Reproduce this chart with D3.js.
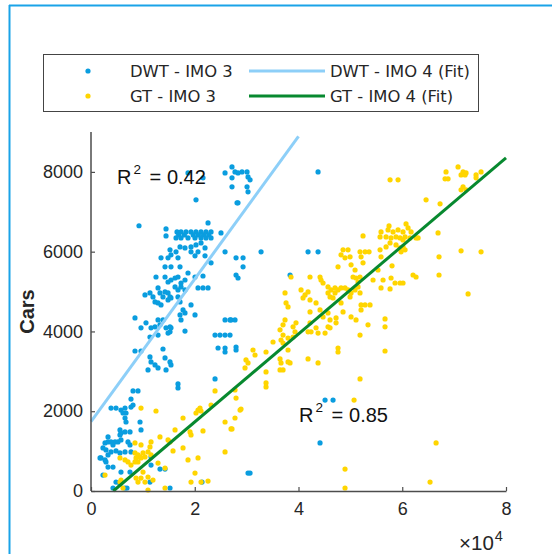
<!DOCTYPE html>
<html><head><meta charset="utf-8">
<script src="https://cdn.jsdelivr.net/npm/d3@7"></script>
<style>html,body{margin:0;padding:0;background:#fff;}svg{display:block;}</style>
</head><body>
<script>
// ---- data ----
const dwt = [
[9250,6650],[14460,6570],[14460,6395],
[16580,6495],[17350,6495],[18320,6495],[19280,6495],[20240,6495],[21210,6495],[22170,6495],[23140,6495],
[16900,6420],[18000,6420],[19700,6420],[20700,6420],[21700,6420],[22700,6420],
[16390,6345],[17350,6345],[18700,6345],[20050,6345],[21210,6345],[22170,6345],[23140,6345],
[17160,6120],[18120,6095],[19280,6120],[20240,6170],[21210,6220],[21980,6095],
[15230,6045],[15420,5920],[16390,5995],[16770,5845],
[19280,5995],[20050,5895],[20630,5995],[21980,5895],
[22560,6720],[25060,6470],[25840,5995],[23140,5720],
[13500,5845],[14850,5845],[14270,5620],[15420,5620],[17160,5620],
[12530,5365],[14270,5365],[14850,5240],[15420,5290],[16200,5340],[16770,5365],[17350,5215],[18120,5290],
[18700,5465],[20050,5365],[21590,5390],
[16200,5115],[16770,5040],[17350,5115],[18120,5040],
[20630,5090],[21590,5090],[22560,5090],
[12920,5090],[13300,4965],[11950,4865],[13880,4865],[14270,4990],[14850,4965],[15230,4865],
[10410,4915],[11370,4965],[12340,4740],[12920,4715],[13500,4665],
[16770,4865],[17160,4740],[17740,4540],[18120,4465],[17160,4415],[17350,4290],
[14850,4790],[15420,4840],
[8480,4340],[10600,4215],[12920,4290],[13300,4165],[12340,4115],[13880,4290],
[19280,4665],[20050,4415],[25840,4290],[26800,4290],
[18700,7975],[21590,7850],[20240,7300],
[25840,7975],[27180,8125],[27760,8000],[28340,7975],[29110,8000],[30080,8000],[30270,7875],[30660,7800],
[27180,7850],[27180,7625],[30080,7625],[30270,7500],[28150,7225],[28340,7225],
[43770,8000],[32780,5995],[41840,5995],[43770,5995],
[27960,5845],[29310,5845],[29310,5620],[27960,5415],[28340,5340],[38370,5415],
[26990,4290],[27760,4290],[26800,3910],[27960,3535],[27960,3610],
[45120,2280],[46660,2280],[44150,1205],[30270,450],[30660,450],
[9640,4090],[11570,4090],[14460,4090],[15230,4115],[15420,4090],
[11370,3860],[12920,3910],[14850,3960],[15230,3990],[18120,4010],
[8480,3510],[9640,3510],[11370,3360],[13880,3560],
[11570,3235],[10990,3035],[12340,3160],[12920,3085],
[14270,3335],[15230,3235],[14460,3035],[15420,3160],
[16770,2685],[16770,2585],
[23910,3910],[24870,3910],[25840,3910],
[24490,3585],[25840,3585],[25840,3485],[23910,2810],
[8100,2510],[9060,2510],[7710,2305],[8100,2155],[7710,2105],
[3860,2080],[4820,2080],[5780,2030],[6560,2080],[6170,1955],[6750,1955],[6560,1830],[6750,1730],
[9450,1730],
[5590,1530],[5780,1455],[6560,1480],[7520,1480],[5590,1405],[9640,1530],
[3280,1355],[2700,1205],[3280,1230],[3860,1230],[4630,1230],[5210,1230],[4240,1155],[5780,1280],
[7130,1230],[7520,1155],
[2310,1080],[2890,1030],[3860,980],[3280,905],[1930,830],[2700,780],[1740,830],[2890,730],
[4820,1005],[6560,980],[5590,955],[7710,980],[11570,855],
[3280,600],[4240,600],[2310,400],[7520,475],[5780,475],
[11570,650],[13300,550],[14270,550],[21400,225],
[11370,225],[4820,225],[5590,175],[6560,75],[15230,75],[4240,75],[6940,75]
];
const gt = [
[9640,2080],[12530,2005],[20630,2030],[20240,1955],[21010,2080],[21210,2005],[23910,2510],[23140,2155],[17740,1830],[25840,1730],[26990,1555],
[13300,1355],[11570,1230],[11370,1105],[9640,1155],[8480,1205],
[16200,1530],[19090,1480],[19280,1405],[21590,1505],[14850,1280],[15230,1230],
[15810,1005],[17740,1080],[18700,780],[20630,830],[25840,980],
[8480,955],[9060,905],[9450,855],[8680,830],[9640,830],[10030,955],[10410,855],[9060,730],[8480,730],
[5590,830],[6560,780],[7130,730],[7710,650],[10990,980],[11570,905],[12920,700],[14270,575],
[10030,475],[10990,350],[9640,325],[8680,325],[9060,225],
[5590,225],[5780,275],[6170,75],[10410,225],[10990,25],[11950,275],[14270,75],
[20050,450],[19280,225],[21210,225],[22560,250],[2700,400],
[52440,6395],[49550,6045],[48200,5920],[48970,5845],[49940,5870],[48590,6045],
[51860,5995],[52830,5995],[52060,5870],[52440,5720],[47620,5620],[50130,5670],[50900,5540],
[50510,5365],[51090,5340],[51860,5365],[51480,5240],
[38560,5365],[42220,5365],[44150,5365],[44340,5290],[44730,5215],
[40490,5040],[41260,4915],[41840,4990],[40870,4840],[42220,4790],
[45690,5115],[46270,5040],[47040,5090],[47620,5040],[48200,5090],[48970,5090],
[45690,4965],[46080,4865],[47040,4965],[46660,4840],
[49550,5040],[49940,4865],[50130,4965],[50900,5040],[51480,5115],[51860,4965],
[52060,4665],[52830,4665],[52060,4540],[48590,4490],[48200,4715],[50130,4365],[51090,4290],
[37600,4715],[37980,4615],[37400,4965],[42220,4490],
[43380,4715],[44150,4540],[44730,4365],[45690,4465],[46080,4290],[47240,4340],[47240,4215],
[39520,4215],[38950,4115],[42220,4215],[41840,3990],[42420,3990],
[43380,4090],[43770,3960],[45120,3960],[45690,4115],[46080,4090],
[37400,4290],[37020,4165],[36440,4040],[37020,3910],[36630,3785],[37980,3835],
[39330,3990],[38950,3860],[35090,3735],[37020,3710],[47620,3585],[47620,3485],[51860,3910],
[31230,3535],[31620,3410],[33740,3485],[37980,3535],
[29880,3285],[29690,3085],[30270,3210],[36440,3310],[36630,3210],[37980,3235],[38370,3210],
[36440,3035],[37020,3035],[33740,2985],[41840,3310],[43770,3210],
[33740,2710],[33740,2610],[27760,2535],[27960,2330],[28730,2030],[28920,2055],[27760,1830],[27180,1555],
[51860,2810],[50710,2280],[48970,550],[48970,75],
[57650,7800],[59190,7800],[64590,7300],[67290,7200],[68250,7825],[68830,7825],[68440,8000],
[70760,8125],[71720,8000],[72300,7975],[71340,7925],[72110,7925],[74230,7925],[74230,7850],[75190,8000],
[71720,7625],[72300,7550],[71340,7550],
[55910,6495],[57260,6545],[58230,6495],[59190,6545],[60150,6495],[60730,6695],[61120,6595],[61700,6495],[62660,6345],[63050,6345],
[55720,6370],[56880,6370],[57840,6345],[58800,6370],[59580,6345],[60150,6295],[60540,6370],[61500,6345],
[57650,6220],[58800,6170],[59580,6095],[59770,5995],[60540,6045],[60150,6120],
[56880,6120],[55720,6045],[55910,5870],[57450,6645],[66900,6470],[71340,6020],[75190,5995],[67090,5870],[53600,5995],
[58030,5645],[55330,5540],[54370,5290],[56300,5290],[57840,5340],
[58610,5215],[59580,5215],[60150,5215],[62080,5415],[62660,5365],[67090,5415],
[55910,5090],[57650,5065],[72690,4940],[53790,4665],[53400,4165],[56680,4315],[56680,4115],[56680,3510],
[66520,1205],[65360,225]
];
const dwtFitX = [0, 40000];
const dwtFitY = [1740, 8890];
const gtFitX = [4300, 80000];
const gtFitY = [0, 8350];
const xTickValues = [0, 20000, 40000, 60000, 80000];
const xTickLabels = ["0", "2", "4", "6", "8"];
const yTickValues = [0, 2000, 4000, 6000, 8000];
const yTickLabels = ["0", "2000", "4000", "6000", "8000"];
const legendLabels = ["DWT - IMO 3", "GT - IMO 3", "DWT - IMO 4 (Fit)", "GT - IMO 4 (Fit)"];
const r2Labels = ["0.42", "0.85"];
const r2Pos = [[5000, 7700], [40100, 1740]];
const yLabel = "Cars";

// ---- styles ----
const C_BLUE = "#0a9ddf", C_YEL = "#ffd500", C_LBLUE = "#8dcff8", C_GREEN = "#07892f";
const TXT = "#262626", AX = "#4d4d4d";
const SANS = "'Liberation Sans', Arial, sans-serif";

const W = 552, H = 554;
const svg = d3.select("body").append("svg").attr("width", W).attr("height", H);
svg.append("rect").attr("width", W).attr("height", H).attr("fill", "#fff");
svg.append("line").attr("x1", 9.5).attr("x2", 9.5).attr("y1", 5).attr("y2", H).attr("stroke", "#1aa3e8").attr("stroke-width", 2);
svg.append("line").attr("x1", 9).attr("x2", W).attr("y1", 5.5).attr("y2", 5.5).attr("stroke", "#1aa3e8").attr("stroke-width", 2);

const x = d3.scaleLinear().domain([0, 80000]).range([91, 506]);
const y = d3.scaleLinear().domain([0, 9000]).range([491, 132]);

const g = svg.append("g");
g.selectAll("circle.dwt").data(dwt).join("circle").attr("class", "dwt")
  .attr("cx", d => x(d[0])).attr("cy", d => y(d[1])).attr("r", 2.6).attr("fill", C_BLUE);
g.selectAll("circle.gt").data(gt).join("circle").attr("class", "gt")
  .attr("cx", d => x(d[0])).attr("cy", d => y(d[1])).attr("r", 2.6).attr("fill", C_YEL);

const line = d3.line().x(d => x(d[0])).y(d => y(d[1]));
g.append("path").datum(dwtFitX.map((v, i) => [v, dwtFitY[i]])).attr("d", line)
  .attr("stroke", C_LBLUE).attr("stroke-width", 3).attr("fill", "none");
g.append("path").datum(gtFitX.map((v, i) => [v, gtFitY[i]])).attr("d", line)
  .attr("stroke", C_GREEN).attr("stroke-width", 3).attr("fill", "none");

const xAxis = d3.axisBottom(x).tickValues(xTickValues).tickFormat((d, i) => xTickLabels[i])
  .tickSizeInner(-4).tickSizeOuter(0).tickPadding(11);
const yAxis = d3.axisLeft(y).tickValues(yTickValues).tickFormat((d, i) => yTickLabels[i])
  .tickSizeInner(-4).tickSizeOuter(0).tickPadding(8);
const gx = svg.append("g").attr("transform", "translate(0,491)").call(xAxis);
const gy = svg.append("g").attr("transform", "translate(91,0)").call(yAxis);
[gx, gy].forEach(a => {
  a.select(".domain").attr("stroke", AX).attr("stroke-width", 1.5);
  a.selectAll(".tick line").attr("stroke", AX).attr("stroke-width", 1.2);
  a.selectAll("text").attr("fill", TXT).style("font-family", SANS).style("font-size", "18px");
});
gy.select(".domain").attr("d", "M0,132V491");

// x10^4 exponent label
const ex = svg.append("text").attr("x", 459).attr("y", 550).attr("fill", TXT)
  .style("font-family", SANS).style("font-size", "20.5px");
ex.append("tspan").text("×");
ex.append("tspan").text("10");
ex.append("tspan").attr("dy", -9.5).attr("dx", 1).style("font-size", "14.5px").text("4");

// y label
svg.append("text").attr("transform", "translate(34,311.5) rotate(-90)").attr("text-anchor", "middle")
  .attr("fill", TXT).style("font-family", SANS).style("font-size", "20px")
  .style("font-weight", "bold").text(yLabel);

// R^2 labels
r2Pos.forEach((p, i) => {
  const px = x(p[0]), py = y(p[1]);
  const t = svg.append("text").attr("y", py).attr("fill", "#111")
    .style("font-family", SANS).style("font-size", "20px");
  t.append("tspan").attr("x", px).text("R");
  t.append("tspan").attr("x", px + 16.5).attr("dy", -9.5).style("font-size", "13.5px").text("2");
  t.append("tspan").attr("x", px + 32.5).attr("dy", 9.5).text("=");
  t.append("tspan").attr("x", px + 50).text(r2Labels[i]);
});

// legend
const lg = svg.append("g");
lg.append("rect").attr("x", 43.5).attr("y", 54.5).attr("width", 435).attr("height", 57)
  .attr("fill", "#fff").attr("stroke", "#444").attr("stroke-width", 1);
const rowsY = [71, 96];
const lf = "'DejaVu Sans', sans-serif";
[0, 1].forEach(i => {
  lg.append("circle").attr("cx", 88).attr("cy", rowsY[i]).attr("r", 2.6).attr("fill", i === 0 ? C_BLUE : C_YEL);
  lg.append("text").attr("x", 130).attr("y", rowsY[i]).attr("dy", "0.36em").attr("fill", TXT)
    .style("font-family", lf).style("font-size", "16.4px").text(legendLabels[i]);
  lg.append("line").attr("x1", 249).attr("x2", 325).attr("y1", rowsY[i]).attr("y2", rowsY[i])
    .attr("stroke", i === 0 ? C_LBLUE : C_GREEN).attr("stroke-width", 3);
  lg.append("text").attr("x", 330).attr("y", rowsY[i]).attr("dy", "0.36em").attr("fill", TXT)
    .style("font-family", lf).style("font-size", "16.4px").text(legendLabels[i + 2]);
});
</script>
</body></html>
